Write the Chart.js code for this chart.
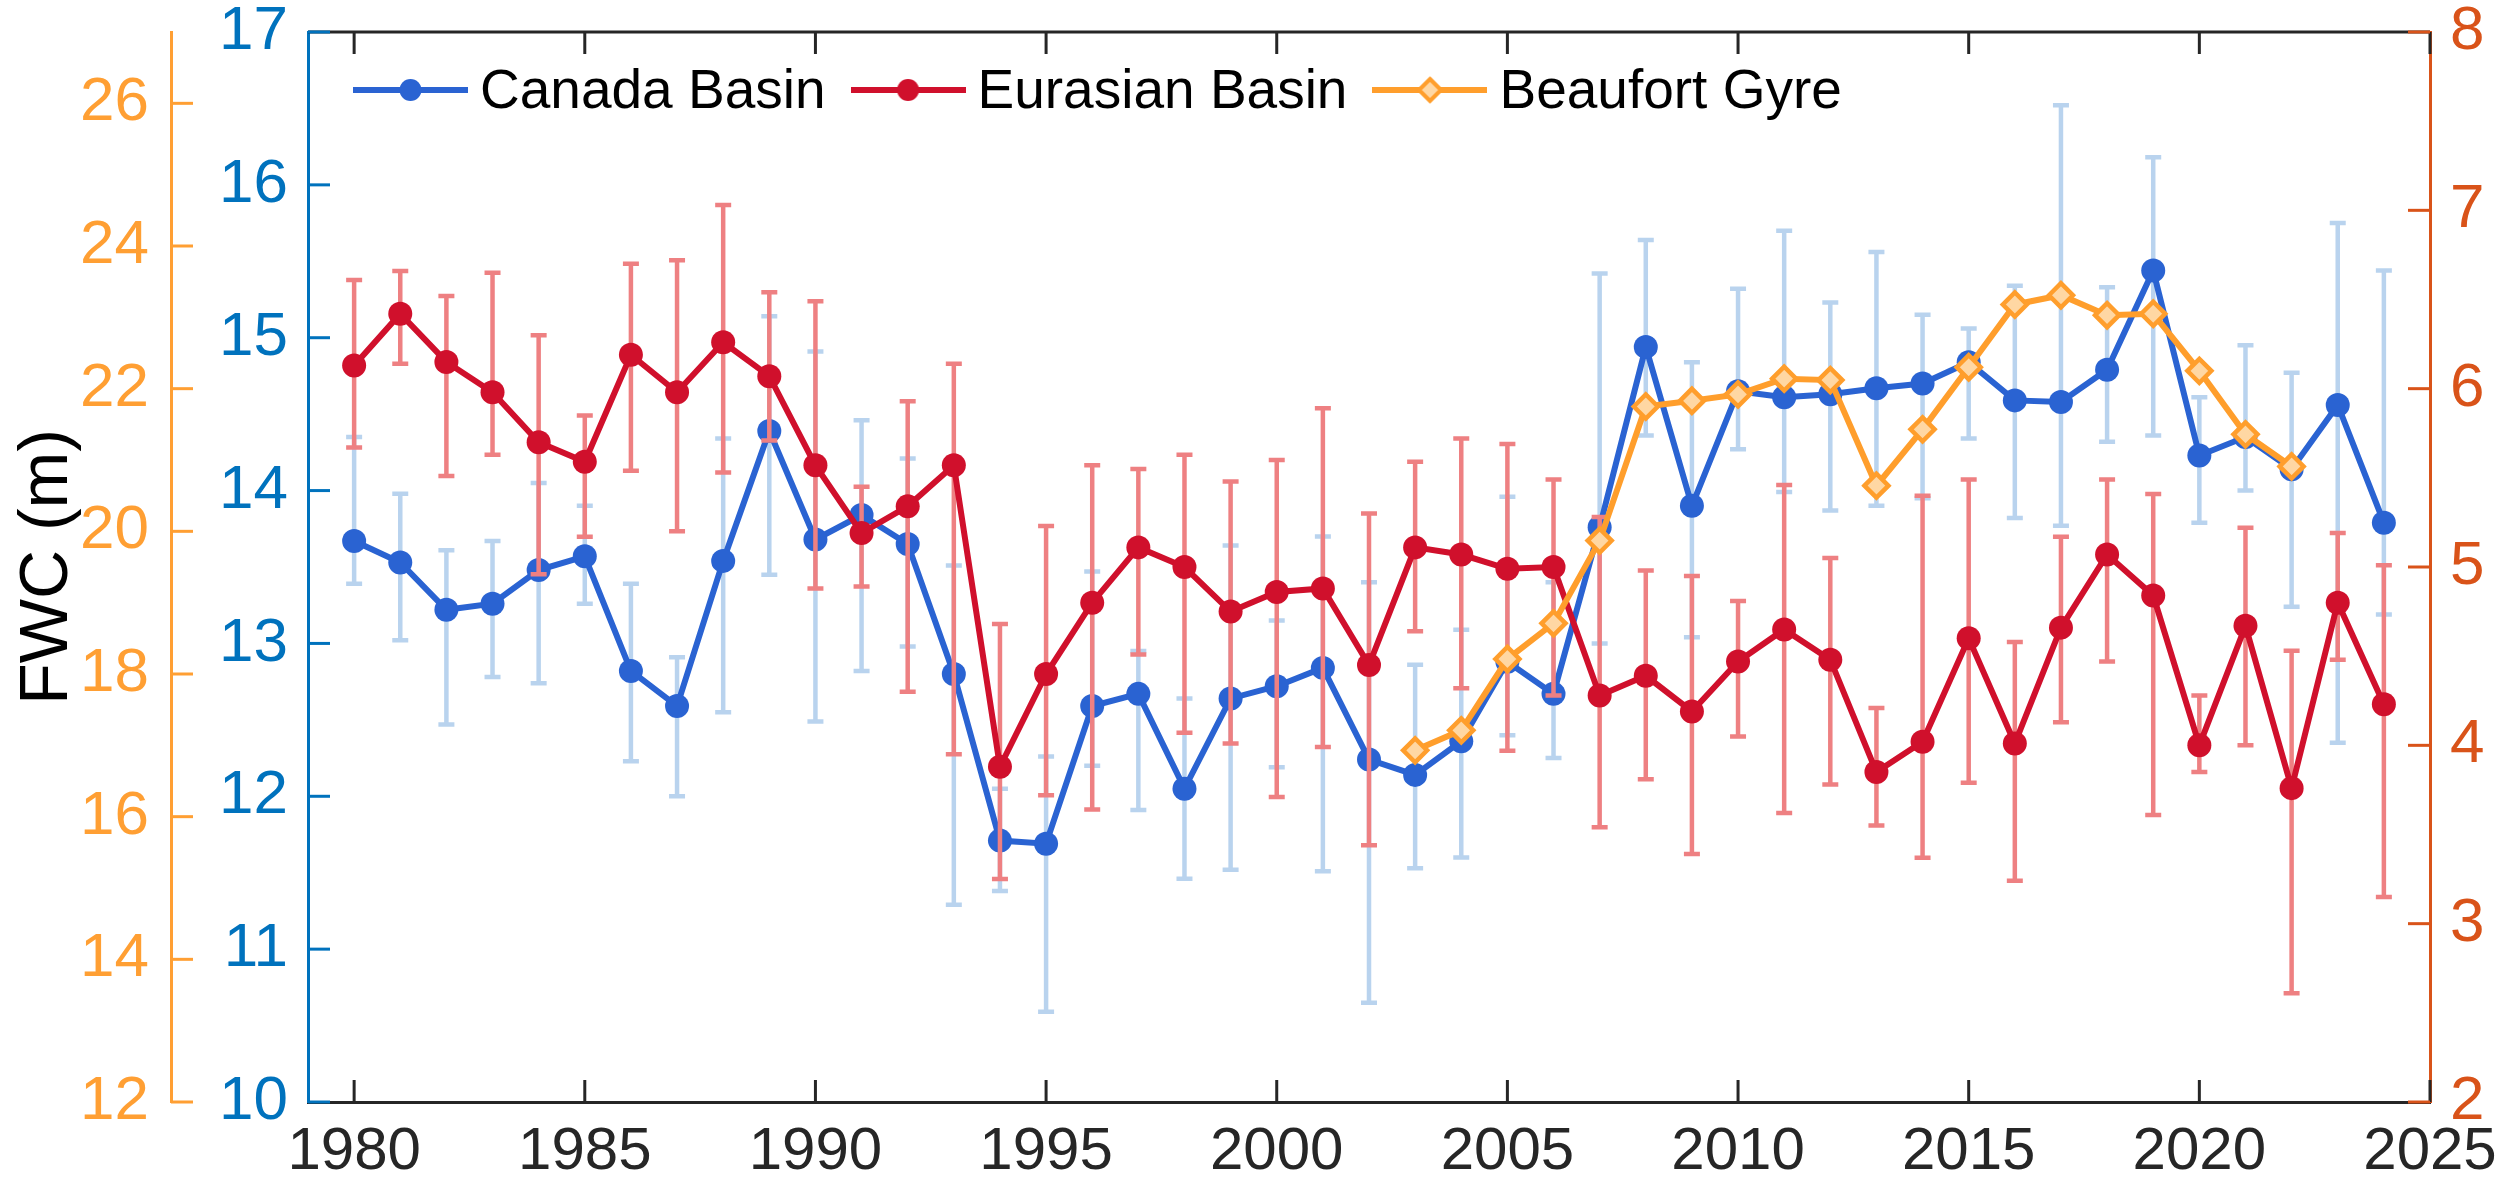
<!DOCTYPE html>
<html>
<head>
<meta charset="utf-8">
<script src="https://cdn.jsdelivr.net/npm/chart.js@4.4.1/dist/chart.umd.min.js"></script>
<style>
  html, body { margin: 0; padding: 0; background: #fff; }
  canvas { display: block; }
</style>
</head>
<body>
<canvas id="fwcChart" width="2500" height="1189"></canvas>
<script>
// ---- data ----
const years = [1980, 1981, 1982, 1983, 1984, 1985, 1986, 1987, 1988, 1989,
  1990, 1991, 1992, 1993, 1994, 1995, 1996, 1997, 1998, 1999,
  2000, 2001, 2002, 2003, 2004, 2005, 2006, 2007, 2008, 2009,
  2010, 2011, 2012, 2013, 2014, 2015, 2016, 2017, 2018, 2019,
  2020, 2021, 2022, 2023, 2024];

const canadaBasin = [13.67, 13.53, 13.22, 13.26, 13.48, 13.57, 12.82, 12.59, 13.54, 14.39,
  13.68, 13.84, 13.65, 12.80, 11.71, 11.69, 12.59, 12.67, 12.05, 12.64,
  12.72, 12.84, 12.24, 12.14, 12.36, 12.88, 12.67, 13.76, 14.94, 13.90,
  14.65, 14.61, 14.63, 14.67, 14.70, 14.84, 14.59, 14.58, 14.79, 15.44,
  14.23, 14.35, 14.14, 14.56, 13.79];
const canadaLow = [13.39, 13.02, 12.47, 12.78, 12.74, 13.26, 12.23, 12.00, 12.55, 13.45,
  12.49, 12.82, 12.98, 11.29, 11.38, 10.59, 12.20, 11.91, 11.46, 11.52,
  12.19, 11.51, 10.65, 11.53, 11.60, 12.40, 12.25, 13.00, 14.36, 13.04,
  14.27, 13.99, 13.87, 13.90, 13.95, 14.34, 13.82, 13.77, 14.32, 14.36,
  13.79, 14.00, 13.24, 12.35, 13.19];
const canadaHigh = [14.35, 13.98, 13.61, 13.67, 14.05, 13.90, 13.39, 12.91, 14.34, 15.14,
  14.91, 14.46, 14.21, 13.51, 12.05, 12.26, 13.47, 12.95, 12.64, 13.64,
  13.15, 13.70, 13.40, 12.86, 13.09, 13.96, 13.40, 15.42, 15.64, 14.84,
  15.32, 15.70, 15.23, 15.56, 15.15, 15.06, 15.34, 16.52, 15.33, 16.18,
  14.61, 14.95, 14.77, 15.75, 15.44];

const eurasianBasin = [6.13, 6.42, 6.15, 5.98, 5.70, 5.59, 6.19, 5.98, 6.26, 6.07,
  5.57, 5.19, 5.34, 5.57, 3.88, 4.40, 4.80, 5.11, 5.00, 4.75,
  4.86, 4.88, 4.45, 5.11, 5.07, 4.99, 5.00, 4.28, 4.39, 4.19,
  4.47, 4.65, 4.48, 3.85, 4.02, 4.60, 4.01, 4.66, 5.07, 4.84,
  4.00, 4.67, 3.76, 4.80, 4.23];
const eurasianLow = [5.67, 6.14, 5.51, 5.63, 4.96, 5.17, 5.54, 5.20, 5.53, 5.71,
  4.88, 4.89, 4.30, 3.95, 3.25, 3.72, 3.64, 4.51, 4.07, 4.01,
  3.71, 3.99, 3.44, 4.64, 4.32, 3.97, 4.28, 3.54, 3.81, 3.39,
  4.05, 3.62, 3.78, 3.55, 3.37, 3.79, 3.24, 4.13, 4.47, 3.61,
  3.85, 4.00, 2.61, 4.48, 3.15];
const eurasianHigh = [6.61, 6.66, 6.52, 6.65, 6.30, 5.85, 6.70, 6.72, 7.03, 6.54,
  6.49, 5.45, 5.93, 6.14, 4.68, 5.23, 5.57, 5.55, 5.63, 5.48,
  5.60, 5.89, 5.30, 5.59, 5.72, 5.69, 5.49, 5.28, 4.98, 4.95,
  4.81, 5.46, 5.05, 4.21, 5.40, 5.49, 4.58, 5.17, 5.49, 5.41,
  4.28, 5.22, 4.53, 5.19, 5.01];

const gyreYears = [2003, 2004, 2005, 2006, 2007, 2008, 2009, 2010, 2011, 2012,
  2013, 2014, 2015, 2016, 2017, 2018, 2019, 2020, 2021, 2022];
const beaufortGyre = [16.93, 17.21, 18.21, 18.71, 19.87, 21.75, 21.83, 21.92, 22.14, 22.12,
  20.64, 21.43, 22.30, 23.18, 23.31, 23.03, 23.05, 22.25, 21.36, 20.91];

const xTicks = [1980, 1985, 1990, 1995, 2000, 2005, 2010, 2015, 2020, 2025];
const cbTicks = [10, 11, 12, 13, 14, 15, 16, 17];
const bgTicks = [12, 14, 16, 18, 20, 22, 24, 26];
const ebTicks = [2, 3, 4, 5, 6, 7, 8];

// ---- colours ----
const CB_LINE = '#2A63D2', CB_ERR = '#B9D3EE';
const EB_LINE = '#D0102C', EB_ERR = '#EE8082';
const BG_LINE = '#FF9E2C', BG_FILL = '#FFD7A3';
const AX_BLUE = '#0072BD', AX_ORANGE = '#FF9F33', AX_RED = '#D95319', AX_DARK = '#262626';

const FONT = '"Liberation Sans", Arial, Helvetica, sans-serif';
Chart.defaults.font.family = FONT;

const TICK_LEN = 22;

// legend sample: line with the marker in the middle
function legendSample(color, diamond) {
  const c = document.createElement('canvas');
  c.width = 115; c.height = 32;
  const g = c.getContext('2d');
  g.strokeStyle = color;
  g.lineWidth = 6;
  g.beginPath(); g.moveTo(0, 16); g.lineTo(115, 16); g.stroke();
  if (diamond) {
    g.fillStyle = BG_FILL; g.lineWidth = 4;
    g.beginPath();
    g.moveTo(57.5, 5); g.lineTo(68.5, 16); g.lineTo(57.5, 27); g.lineTo(46.5, 16);
    g.closePath(); g.fill(); g.stroke();
  } else {
    g.fillStyle = color;
    g.beginPath(); g.arc(57.5, 16, 11, 0, Math.PI * 2); g.fill();
  }
  return c;
}

// error bars drawn right before their own dataset
const errorBars = {
  id: 'errorBars',
  beforeDatasetDraw(chart, args) {
    const ds = chart.data.datasets[args.index];
    if (!ds.errLow) return;
    const {ctx, chartArea: a} = chart;
    const xs = chart.scales.x, ys = chart.scales[ds.yAxisID];
    ctx.save();
    ctx.beginPath(); ctx.rect(a.left, a.top, a.width, a.height); ctx.clip();
    ctx.strokeStyle = ds.errColor;
    ctx.lineWidth = 4.5;
    ds.data.forEach((p, i) => {
      const x = xs.getPixelForValue(p.x);
      const y1 = ys.getPixelForValue(ds.errLow[i]);
      const y2 = ys.getPixelForValue(ds.errHigh[i]);
      ctx.beginPath();
      ctx.moveTo(x, y1); ctx.lineTo(x, y2);
      ctx.moveTo(x - 8, y1); ctx.lineTo(x + 8, y1);
      ctx.moveTo(x - 8, y2); ctx.lineTo(x + 8, y2);
      ctx.stroke();
    });
    ctx.restore();
  }
};

// matlab style inward ticks + top box line
const inTicks = {
  id: 'inTicks',
  afterDraw(chart) {
    const {ctx, chartArea: a, scales} = chart;
    const seg = (x1, y1, x2, y2) => { ctx.beginPath(); ctx.moveTo(x1, y1); ctx.lineTo(x2, y2); ctx.stroke(); };
    ctx.save();
    ctx.lineWidth = 3;
    ctx.strokeStyle = AX_DARK;
    seg(a.left, a.top, a.right, a.top);
    scales.x.ticks.forEach(t => {
      const px = scales.x.getPixelForValue(t.value);
      seg(px, a.bottom, px, a.bottom - TICK_LEN);
      seg(px, a.top, px, a.top + TICK_LEN);
    });
    ctx.strokeStyle = AX_BLUE;
    scales.yCB.ticks.forEach(t => {
      const py = scales.yCB.getPixelForValue(t.value);
      seg(a.left, py, a.left + TICK_LEN, py);
    });
    ctx.strokeStyle = AX_ORANGE;
    scales.yBG.ticks.forEach(t => {
      const py = scales.yBG.getPixelForValue(t.value);
      seg(scales.yBG.right, py, scales.yBG.right + TICK_LEN, py);
    });
    ctx.strokeStyle = AX_RED;
    scales.yEB.ticks.forEach(t => {
      const py = scales.yEB.getPixelForValue(t.value);
      seg(a.right, py, a.right - TICK_LEN, py);
    });
    ctx.restore();
  }
};

// one-row legend inside the top left of the axes
const fwcLegend = {
  id: 'fwcLegend',
  afterDraw(chart) {
    const {ctx, chartArea: a} = chart;
    ctx.save();
    ctx.font = '55px ' + FONT;
    ctx.textBaseline = 'middle';
    ctx.fillStyle = '#000';
    let x = a.left + 45;
    const y = a.top + 58;
    chart.data.datasets.forEach(ds => {
      ctx.drawImage(ds.legendIcon, x, y - 16);
      x += 115 + 12;
      ctx.fillText(ds.label, x, y + 3);
      x += ctx.measureText(ds.label).width + 25;
    });
    ctx.restore();
  }
};

const setTicks = arr => scale => { scale.ticks = arr.map(v => ({value: v})); };
// fixed axis boxes so the plot area sits where the figure has it
const fixY = w => s => { s.width = w; s.paddingTop = 0; s.paddingBottom = 0; };

new Chart(document.getElementById('fwcChart'), {
  type: 'line',
  data: {
    datasets: [{
      label: 'Canada Basin',
      data: years.map((y, i) => ({x: y, y: canadaBasin[i]})),
      errLow: canadaLow, errHigh: canadaHigh, errColor: CB_ERR,
      yAxisID: 'yCB',
      borderColor: CB_LINE, backgroundColor: CB_LINE, borderWidth: 6,
      pointRadius: 12, pointBorderWidth: 0, pointBackgroundColor: CB_LINE,
      legendIcon: legendSample(CB_LINE, false),
      order: 3
    }, {
      label: 'Eurasian Basin',
      data: years.map((y, i) => ({x: y, y: eurasianBasin[i]})),
      errLow: eurasianLow, errHigh: eurasianHigh, errColor: EB_ERR,
      yAxisID: 'yEB',
      borderColor: EB_LINE, backgroundColor: EB_LINE, borderWidth: 6,
      pointRadius: 12, pointBorderWidth: 0, pointBackgroundColor: EB_LINE,
      legendIcon: legendSample(EB_LINE, false),
      order: 2
    }, {
      label: 'Beaufort Gyre',
      data: gyreYears.map((y, i) => ({x: y, y: beaufortGyre[i]})),
      yAxisID: 'yBG',
      borderColor: BG_LINE, backgroundColor: BG_FILL, borderWidth: 6,
      pointStyle: 'rectRot', pointRadius: 12, pointBorderWidth: 4.5,
      pointBorderColor: BG_LINE, pointBackgroundColor: BG_FILL,
      legendIcon: legendSample(BG_LINE, true),
      order: 1
    }]
  },
  options: {
    responsive: false,
    devicePixelRatio: 1,
    animation: false,
    events: [],
    layout: { padding: { top: 32, left: 0, right: 0, bottom: 0 } },
    elements: { line: { tension: 0 } },
    plugins: {
      tooltip: { enabled: false },
      legend: { display: false }
    },
    scales: {
      x: {
        type: 'linear', position: 'bottom',
        min: 1979, max: 2025,
        afterBuildTicks: setTicks(xTicks),
        afterFit: s => { s.height = 87; s.paddingLeft = 0; s.paddingRight = 0; },
        grid: { display: false, drawTicks: false },
        border: { display: true, color: AX_DARK, width: 3 },
        ticks: {
          color: AX_DARK, font: { size: 60 }, padding: 14,
          autoSkip: false, maxRotation: 0,
          callback: v => String(v)
        }
      },
      yCB: {
        type: 'linear', position: 'left', weight: 0,
        min: 10, max: 17,
        afterBuildTicks: setTicks(cbTicks),
        afterFit: fixY(137),
        grid: { display: false, drawTicks: false },
        border: { display: true, color: AX_BLUE, width: 3 },
        ticks: { color: AX_BLUE, font: { size: 62 }, padding: 20, callback: v => String(v) }
      },
      yBG: {
        type: 'linear', position: 'left', weight: 1,
        min: 12, max: 27,
        afterBuildTicks: setTicks(bgTicks),
        afterFit: fixY(171),
        grid: { display: false, drawTicks: false },
        border: { display: true, color: AX_ORANGE, width: 3 },
        title: { display: true, text: 'FWC (m)', color: '#000', font: { size: 68 }, padding: 7 },
        ticks: { color: AX_ORANGE, font: { size: 62 }, padding: 22, callback: v => String(v) }
      },
      yEB: {
        type: 'linear', position: 'right',
        min: 2, max: 8,
        afterBuildTicks: setTicks(ebTicks),
        afterFit: fixY(70),
        grid: { display: false, drawTicks: false },
        border: { display: true, color: AX_RED, width: 3 },
        ticks: { color: AX_RED, font: { size: 62 }, padding: 20, callback: v => String(v) }
      }
    }
  },
  plugins: [errorBars, inTicks, fwcLegend]
});
</script>
</body>
</html>
